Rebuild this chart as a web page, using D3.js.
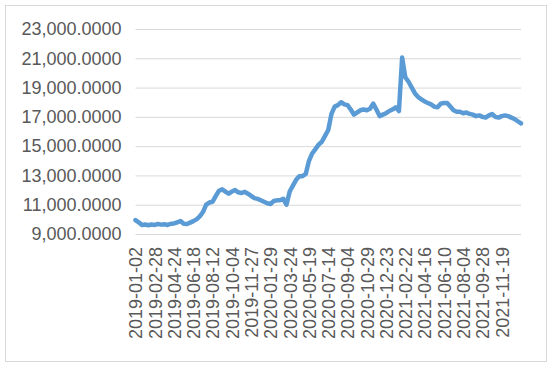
<!DOCTYPE html>
<html>
<head>
<meta charset="utf-8">
<script src="https://cdn.jsdelivr.net/npm/d3@7"></script>
<style>
    body { margin: 0; background: #fff; }
    .axis text { font-family: "Liberation Sans", Arial, sans-serif; font-size: 18px; fill: #595959; }
</style>
</head>
<body>
<div id="chart"></div>
<script>
// one label every 6 points along the category axis
const tickLabels = [
    '2019-01-02', '2019-02-28', '2019-04-24', '2019-06-18', '2019-08-12',
    '2019-10-04', '2019-11-27', '2020-01-29', '2020-03-24', '2020-05-19',
    '2020-07-14', '2020-09-04', '2020-10-29', '2020-12-23', '2021-02-22',
    '2021-04-16', '2021-06-10', '2021-08-04', '2021-09-28', '2021-11-19'
];
const labelStep = 6;

const values = [
    9950, 9800, 9620, 9650, 9600, 9650, 9620, 9680, 9640, 9660,
    9620, 9700, 9720, 9800, 9880, 9700, 9680, 9780, 9880, 10000,
    10200, 10500, 11000, 11150, 11200, 11600, 11950, 12050, 11900, 11750,
    11900, 12000, 11850, 11800, 11880, 11750, 11600, 11450, 11400, 11300,
    11200, 11100, 11050, 11250, 11300, 11300, 11400, 11000, 11900, 12300,
    12700, 12950, 12950, 13100, 14000, 14500, 14800, 15100, 15300, 15700,
    16100, 17200, 17700, 17800, 18000, 17850, 17800, 17500, 17150, 17300,
    17450, 17500, 17450, 17550, 17900, 17500, 17050, 17150, 17250, 17400,
    17500, 17650, 17400, 21050, 19700, 19400, 19000, 18600, 18350, 18200,
    18050, 17950, 17850, 17700, 17650, 17900, 17950, 17950, 17700, 17450,
    17350, 17350, 17250, 17300, 17200, 17150, 17050, 17100, 17000, 16950,
    17100, 17200, 17000, 16950, 17050, 17100, 17050, 16950, 16850, 16700,
    16550
];

const yTicks = [9000, 11000, 13000, 15000, 17000, 19000, 21000, 23000];

const width = 550;
const height = 365;
const margin = {top: 29, bottom: 131, left: 135.5, right: 29};

const svg = d3.select('#chart')
    .append('svg')
    .attr('width', width)
    .attr('height', height);

svg.append('rect')
    .attr('x', 5.5)
    .attr('y', 5.5)
    .attr('width', 541)
    .attr('height', 356)
    .attr('fill', '#fff')
    .attr('stroke', '#d9d9d9');

const x = d3.scalePoint()
    .domain(d3.range(values.length))
    .range([margin.left, width - margin.right]);

const y = d3.scaleLinear()
    .domain([9000, 23000])
    .range([height - margin.bottom, margin.top]);

const yAxis = d3.axisLeft(y)
    .tickValues(yTicks)
    .tickSize(-(width - margin.right - margin.left))
    .tickPadding(14)
    .tickFormat(d3.format(',.4f'));

const gy = svg.append('g')
    .attr('class', 'y axis')
    .attr('transform', `translate(${margin.left},0)`)
    .call(yAxis);
gy.select('.domain').remove();
gy.selectAll('line').attr('stroke', '#d9d9d9');

const xAxis = d3.axisBottom(x)
    .tickValues(tickLabels.map((d, i) => i * labelStep))
    .tickSize(0)
    .tickFormat((d) => tickLabels[d / labelStep]);

const gx = svg.append('g')
    .attr('class', 'x axis')
    .attr('transform', `translate(0,${height - margin.bottom})`)
    .call(xAxis);
gx.select('.domain').remove();
gx.selectAll('text')
    .attr('transform', 'rotate(-90)')
    .attr('x', -13)
    .attr('y', 0)
    .attr('dy', '0.35em')
    .attr('text-anchor', 'end');

const line = d3.line()
    .x((d, i) => x(i))
    .y((d) => y(d));

svg.append('path')
    .datum(values)
    .attr('fill', 'none')
    .attr('stroke', '#5b9bd5')
    .attr('stroke-width', 4.5)
    .attr('stroke-linejoin', 'round')
    .attr('stroke-linecap', 'round')
    .attr('d', line);
</script>
</body>
</html>
